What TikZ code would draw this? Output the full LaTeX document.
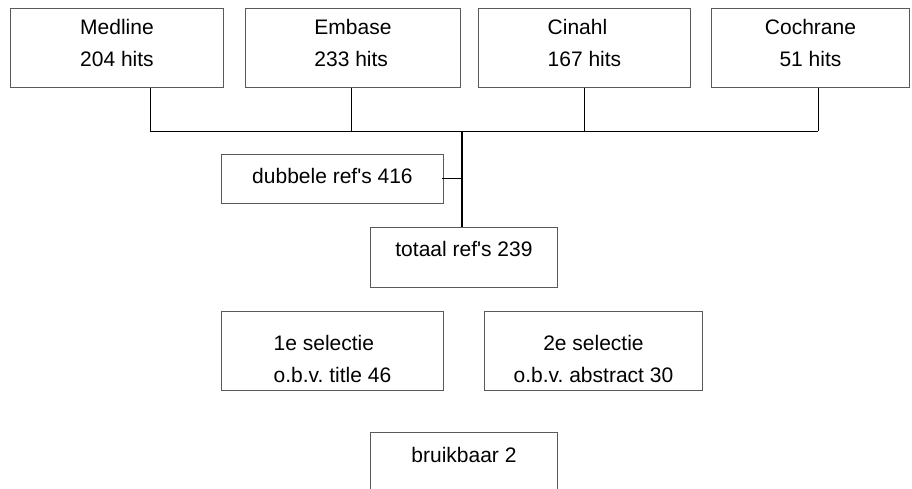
\documentclass[tikz,border=0pt]{standalone}
\usepackage{fontspec}
\setmainfont{Liberation Sans}
\usetikzlibrary{calc}
\frenchspacing

\begin{document}
\begin{tikzpicture}[x=1pt, y=-1pt,
	box/.style={draw=black!65, line width=0.9pt, anchor=north west, inner xsep=0pt, inner ysep=0pt, align=center, font=\fontsize{21}{32}\selectfont},
	link/.style={black, line width=0.9pt},
	trunk/.style={black, line width=2.2pt}]

	% page size of the original picture, in pixels
	\useasboundingbox (0,0) rectangle (912,489);

	% the four databases on top (text height runs to the baseline of the last line)
	\node[box, align=left, minimum width=213pt, minimum height=79pt, text height=58pt, text depth=21pt] (medline) at (10,8) {Medline\\204 hits};
	\node[box, align=left, minimum width=215pt, minimum height=79pt, text height=58pt, text depth=21pt] (embase) at (245,8) {Embase\\233 hits};
	\node[box, align=left, minimum width=212pt, minimum height=79pt, text height=58pt, text depth=21pt] (cinahl) at (478,8) {Cinahl\\167 hits};
	\node[box, minimum width=198pt, minimum height=79pt, text height=58pt, text depth=21pt] (cochrane) at (711,8) {Cochrane\\51 hits};

	% duplicates and total
	\node[box, minimum width=222pt, minimum height=49pt, text height=29pt, text depth=20pt] (dubbel) at (221,154) {dubbele ref\textquotesingle s 416};
	\node[box, minimum width=187pt, minimum height=60pt, text height=29pt, text depth=31pt] (totaal) at (370,227) {totaal ref\textquotesingle s 239};

	% selections
	\node[box, align=left, minimum width=222pt, minimum height=79pt, text height=71pt, text depth=8pt] (sel1) at (221,311) {1e selectie\\o.b.v. title 46};
	\node[box, minimum width=218pt, minimum height=79pt, text height=71pt, text depth=8pt] (sel2) at (484,311) {2e selectie\\o.b.v. abstract 30};

	% last box runs off the bottom of the page, so only three sides
	\node[box, draw=none, minimum width=187pt, minimum height=57pt, text height=30pt, text depth=27pt] (bruik) at (370,432) {bruikbaar 2};
	\draw[black!65, line width=0.9pt] (bruik.south west) -- (bruik.north west) -- (bruik.north east) -- (bruik.south east);

	% junctions on the collecting line
	\coordinate (j1) at (150,131);
	\coordinate (j2) at (351,131);
	\coordinate (j3) at (584,131);
	\coordinate (j4) at (818,131);
	\coordinate (jc) at (462,131);

	% drop lines from the databases
	\draw[link] (medline.south -| j1) -- (j1);
	\draw[link] (embase.south -| j2) -- (j2);
	\draw[link] (cinahl.south -| j3) -- (j3);
	\draw[link] (cochrane.south -| j4) -- (j4);
	\draw[link] (j1) -- (j4);

	% trunk down to the total, with the tick to the duplicates
	\draw[trunk] (jc) -- (totaal.north -| jc);
	\draw[link] ([xshift=-2pt]dubbel.east) -- (dubbel.east -| jc);

\end{tikzpicture}
\end{document}
